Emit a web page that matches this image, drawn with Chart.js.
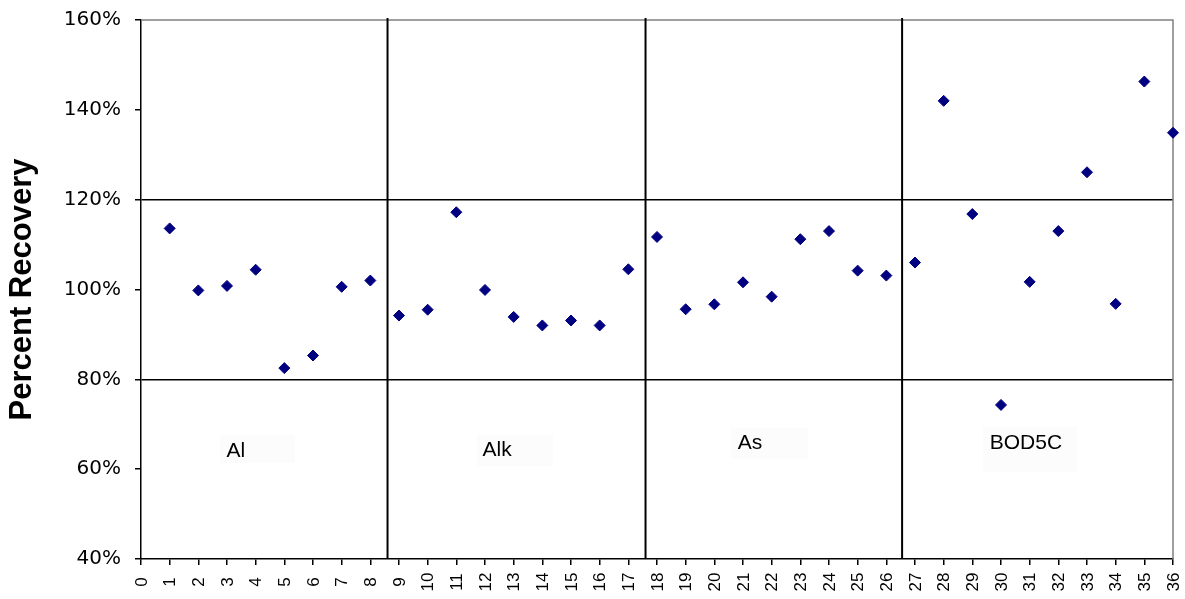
<!DOCTYPE html>
<html><head><meta charset="utf-8">
<script src="https://cdn.jsdelivr.net/npm/chart.js@4/dist/chart.umd.min.js"></script>
<style>html,body{margin:0;padding:0;background:#fff}#wrap{width:1185px;height:599px;position:relative}</style>
</head><body><div id="wrap"><canvas id="c"></canvas></div>
<script>
const sampleIds = [1,2,3,4,5,6,7,8,9,10,11,12,13,14,15,16,17,18,19,20,21,22,23,24,25,26,27,28,29,30,31,32,33,34,35,36];
const recovery = [113.6,99.8,100.8,104.4,82.5,85.3,100.6,102.0,94.2,95.5,117.2,99.9,93.9,92.0,93.1,92.0,104.5,111.7,95.6,96.7,101.6,98.4,111.2,113.0,104.2,103.1,106.0,142.0,116.8,74.3,101.7,113.0,126.1,96.8,146.3,134.9];
const groupNames = ["Al","Alk","As","BOD5C"];
const groupDividers = [8.6,17.6,26.55];
const yTickValues = [40,60,80,100,120,140,160];
const xTickValues = [0,1,2,3,4,5,6,7,8,9,10,11,12,13,14,15,16,17,18,19,20,21,22,23,24,25,26,27,28,29,30,31,32,33,34,35,36];

// group label anchors (data units)
const labelAnchors = [
  {x:3.31, y:64.3, bx0:2.76, bx1:5.37, by0:67.6, by1:61.4},
  {x:12.42, y:64.5, bx0:11.72, bx1:14.37, by0:67.6, by1:60.7},
  {x:21.24, y:66.05, bx0:20.59, bx1:23.27, by0:69.2, by1:62.3},
  {x:30.87, y:66.05, bx0:29.37, bx1:32.65, by0:69.4, by1:59.4}
];

const overlay = {
  id:'overlay',
  afterDraw(chart){
    const {ctx, chartArea:a, scales:{x}} = chart;
    ctx.save();
    ctx.font = '17px "Liberation Sans", Arial, sans-serif';
    ctx.fillStyle = '#000';
    ctx.textAlign = 'center'; ctx.textBaseline = 'middle';
    x.ticks.forEach(t=>{
      const px = x.getPixelForValue(t.value);
      ctx.save();
      ctx.translate(px, a.bottom + 23);
      ctx.rotate(-Math.PI/2);
      ctx.fillText(String(t.value), 0, 1);
      ctx.restore();
    });
    ctx.restore();
  },
  beforeDatasetsDraw(chart){
    const {ctx, chartArea:a, scales:{x,y}} = chart;
    ctx.save();
    ctx.strokeStyle = '#808080'; ctx.lineWidth = 1.5;
    ctx.beginPath();
    ctx.moveTo(a.left, a.top); ctx.lineTo(a.right, a.top); ctx.lineTo(a.right, a.bottom);
    ctx.stroke();
    ctx.strokeStyle = '#000'; ctx.lineWidth = 2;
    groupDividers.forEach(v=>{
      const px = x.getPixelForValue(v);
      ctx.beginPath(); ctx.moveTo(px, a.top-2); ctx.lineTo(px, a.bottom); ctx.stroke();
    });
    ctx.font = '21px "Liberation Sans", Arial, sans-serif';
    ctx.textAlign = 'center'; ctx.textBaseline = 'middle';
    labelAnchors.forEach((L,i)=>{
      const x0 = x.getPixelForValue(L.bx0), x1 = x.getPixelForValue(L.bx1);
      const y0 = y.getPixelForValue(L.by0), y1 = y.getPixelForValue(L.by1);
      ctx.fillStyle = '#fcfcfc';
      ctx.fillRect(x0, y0, x1-x0, y1-y0);
      ctx.fillStyle = '#000';
      ctx.fillText(groupNames[i], x.getPixelForValue(L.x), y.getPixelForValue(L.y)+1);
    });
    ctx.restore();
  }
};

new Chart(document.getElementById('c'), {
  type:'scatter',
  data:{ datasets:[{
    data: sampleIds.map((s,i)=>({x:s, y:recovery[i]})),
    pointStyle:'rectRot', pointRadius:5.5, pointHoverRadius:5.5,
    backgroundColor:'#000080', borderColor:'#000080', borderWidth:1, clip:false
  }]},
  options:{
    responsive:true, maintainAspectRatio:false, animation:false,
    devicePixelRatio:1,
    layout:{padding:{top:20,right:12,left:0,bottom:34}},
    plugins:{legend:{display:false}, tooltip:{enabled:false}},
    scales:{
      x:{
        type:'linear', min:0, max:36,
        afterBuildTicks(s){ s.ticks = xTickValues.map(v=>({value:v})); },
        ticks:{ display:false, autoSkip:false },
        grid:{ color:'rgba(0,0,0,0)', tickColor:'#000', tickLength:6, lineWidth:1.5 },
        border:{ color:'#000', width:1.5 }
      },
      y:{
        min:40, max:160,
        afterBuildTicks(s){ s.ticks = yTickValues.map(v=>({value:v})); },
        afterFit(s){ s.width = 141; s.paddingTop = 0; s.paddingBottom = 0; },
        ticks:{ padding:14, color:'#000', callback:v=>v+'%',
          font:{family:'"DejaVu Sans", sans-serif', size:20} },
        grid:{ color:c=>(c.tick && (c.tick.value===80||c.tick.value===120))?'#000':'rgba(0,0,0,0)',
          tickColor:'#000', tickLength:6, lineWidth:1.5 },
        border:{ color:'#000', width:1.5 },
        title:{ display:true, text:'Percent Recovery', color:'#000', padding:{top:4,bottom:0},
          font:{family:'"Liberation Sans", Arial, sans-serif', size:31, weight:'bold'} }
      }
    }
  },
  plugins:[overlay]
});
</script></body></html>
